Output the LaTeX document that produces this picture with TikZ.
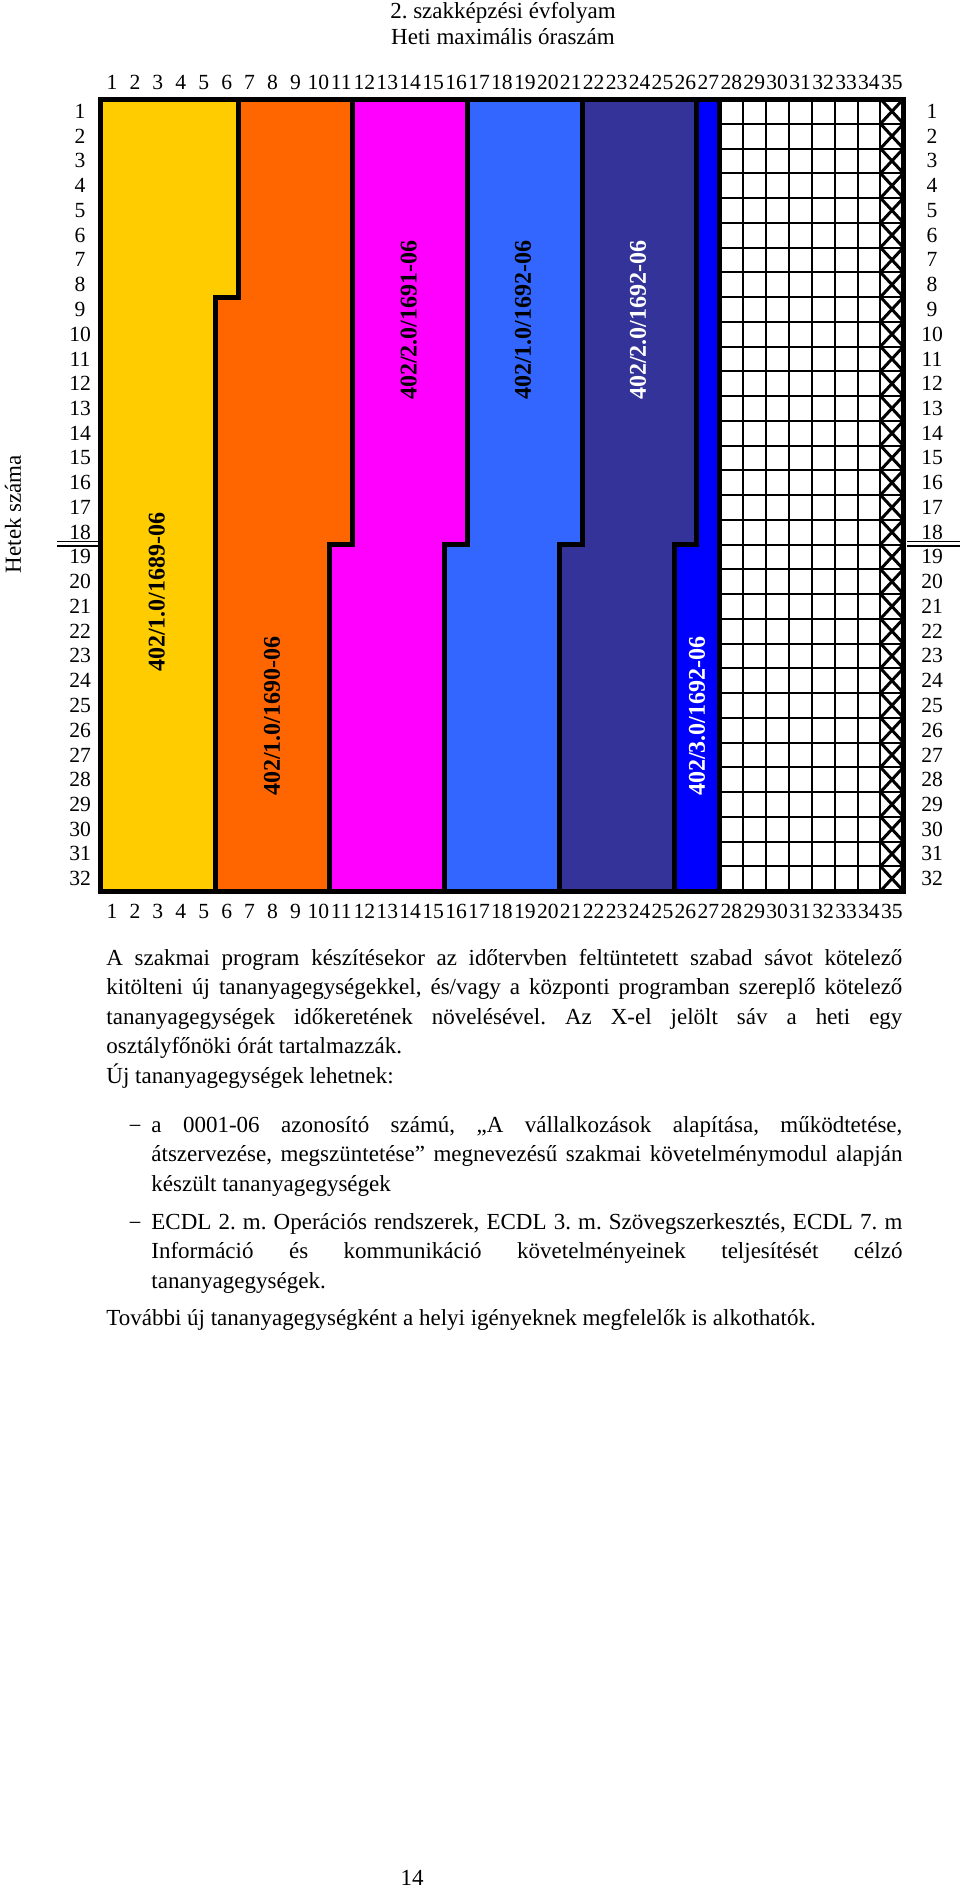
\documentclass[tikz,border=0pt]{standalone}
\usepackage{fontspec}
\setmainfont{Liberation Serif}

\definecolor{modyellow}{HTML}{FFCC00}
\definecolor{modorange}{HTML}{FF6600}
\definecolor{modmagenta}{HTML}{FF00FF}
\definecolor{modblue}{HTML}{3366FF}
\definecolor{moddark}{HTML}{333399}
\definecolor{modbright}{HTML}{0000FF}

\begin{document}
\frenchspacing
\begin{tikzpicture}[x=0.5pt, y=-0.5pt,
  num/.style={font=\fontsize{10.8}{12}\selectfont, inner sep=0pt},
  module/.style={font=\fontsize{12}{14}\selectfont\bfseries, rotate=90, inner sep=0pt},
  border/.style={line width=2.5pt, line join=miter},
  cell/.style={line width=1pt},
  cross/.style={line width=1.5pt},
  body/.style={font=\fontsize{11.5}{14.75}\selectfont, inner sep=0pt, align=justify}]

  \useasboundingbox (0,0) rectangle (960,1892);

  % heading
  \node[anchor=base, font=\fontsize{11.5}{13}\selectfont] (title) at (503,18) {2. szakképzési évfolyam};
  \node[anchor=base, font=\fontsize{11.5}{13}\selectfont] (subtitle) at (503,44) {Heti maximális óraszám};
  \node[rotate=90, font=\fontsize{11.5}{13}\selectfont] (weeks) at (13,514) {Hetek száma};

  % chart
  \begin{scope}[xshift=50.25pt, yshift=-49.5pt, x=11.47pt, y=-12.375pt]
    \fill[modyellow] (0,0) -- (6,0) -- (6,8) -- (5,8) -- (5,32) -- (0,32) -- cycle;
    \fill[modorange] (6,0) -- (11,0) -- (11,18) -- (10,18) -- (10,32) -- (5,32) -- (5,8) -- (6,8) -- cycle;
    \foreach \l/\col in {16/modmagenta,21/modblue,26/moddark}
      \fill[\col] (\l-5,0) -- (\l,0) -- (\l,18) -- (\l-1,18) -- (\l-1,32) -- (\l-6,32) -- (\l-6,18) -- (\l-5,18) -- cycle;
    \fill[modbright] (26,0) -- (27,0) -- (27,32) -- (25,32) -- (25,18) -- (26,18) -- cycle;

    % free band and class hour
    \foreach \c in {28,...,34}
      \draw[cell] (\c,0) -- (\c,32);
    \foreach \r in {1,...,31}
      \draw[cell] (27,\r) -- (35,\r);
    \foreach \r in {0,...,31}
      \draw[cross] (34,\r) -- (35,\r+1) (34,\r+1) -- (35,\r);

    \draw[border] (6,0) -- (6,8) -- (5,8) -- (5,32);
    \foreach \l in {11,16,21,26}
      \draw[border] (\l,0) -- (\l,18) -- (\l-1,18) -- (\l-1,32);
    \draw[border] (27,0) -- (27,32);
    \draw[border] (0,0) rectangle (35,32);

    \foreach \c in {1,...,35} {
      \node[num, anchor=base] (top\c) at (\c-0.5,-0.4) {\c};
      \node[num, anchor=base] (bot\c) at (\c-0.5,33.13) {\c};
    }
    \foreach \r in {1,...,32} {
      \node[num] (left\r) at (-0.89,\r-0.5) {\r};
      \node[num] (right\r) at (36.25,\r-0.5) {\r};
    }

    \node[module] (m1689) at (2.46,19.92) {402/1.0/1689-06};
    \node[module] (m1690) at (7.48,24.93) {402/1.0/1690-06};
    \node[module] (m1691) at (13.44,8.93) {402/2.0/1691-06};
    \node[module] (m1692a) at (18.42,8.93) {402/1.0/1692-06};
    \node[module, text=white] (m1692b) at (23.43,8.93) {402/2.0/1692-06};
    \node[module, text=white] (m1692c) at (26.0,24.93) {402/3.0/1692-06};
  \end{scope}

  % half year mark
  \draw[line width=0.6pt] (57,541.5) -- (98,541.5) (57,546) -- (98,546);
  \draw[line width=0.6pt] (907,541.5) -- (960,541.5) (907,546) -- (960,546);

  % notes
  \node[body, anchor=base west, text width=398pt] (note) at (106,965)
    {A szakmai program készítésekor az időtervben feltüntetett szabad sávot kötelező\linebreak
     kitölteni új tananyagegységekkel, és/vagy a központi programban szereplő kötelező\linebreak
     tananyagegységek időkeretének növelésével. Az X-el jelölt sáv a heti egy\linebreak
     osztályfőnöki órát tartalmazzák.\par
     Új tananyagegységek lehetnek:};
  \node[body, anchor=base] (dashA) at (135,1133) {−};
  \node[body, anchor=base west, text width=375.5pt] (itemA) at (151,1132)
    {a 0001-06 azonosító számú, „A vállalkozások alapítása, működtetése,\linebreak
     átszervezése, megszüntetése” megnevezésű szakmai követelménymodul alapján\linebreak
     készült tananyagegységek};
  \node[body, anchor=base] (dashB) at (135,1230) {−};
  \node[body, anchor=base west, text width=375.5pt] (itemB) at (151,1229)
    {ECDL 2. m. Operációs rendszerek, ECDL 3. m. Szövegszerkesztés, ECDL 7. m\linebreak
     Információ és kommunikáció követelményeinek teljesítését célzó\linebreak
     tananyagegységek.};
  \node[body, anchor=base west, align=left] (further) at (106,1325)
    {További új tananyagegységként a helyi igényeknek megfelelők is alkothatók.};

  \node[body] (page) at (412,1878) {14};
\end{tikzpicture}
\end{document}
